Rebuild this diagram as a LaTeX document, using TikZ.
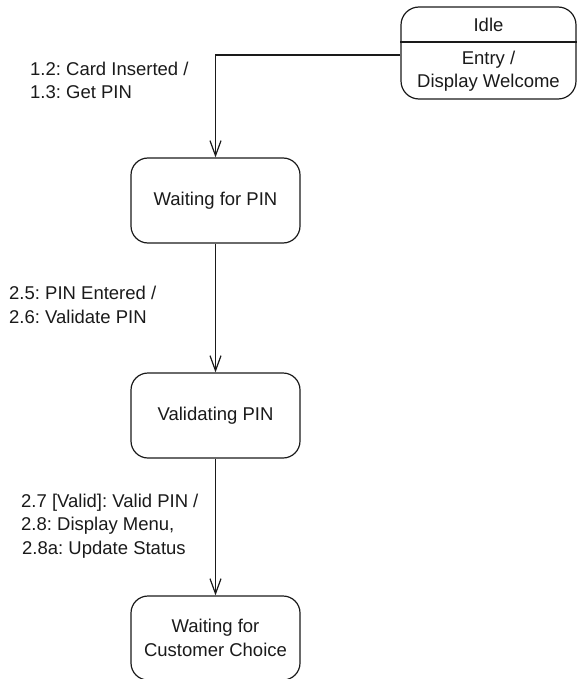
\documentclass[tikz,border=0pt]{standalone}
\usepackage{fontspec}
\setmainfont{Liberation Sans}
\usetikzlibrary{arrows.meta}
\definecolor{ink}{HTML}{1A1A1A}
\frenchspacing
\begin{document}
\begin{tikzpicture}[x=1pt,y=-1pt,
  font=\fontsize{18.5}{23.5}\selectfont,
  every node/.style={text=ink},
  statebox/.style={draw=ink,line width=1.2pt,rounded corners=17pt,inner sep=0pt,minimum width=169pt,minimum height=85pt,align=center},
  lbl/.style={anchor=base west,inner sep=0pt,align=left},
  flow/.style={draw=ink,line width=1.2pt,-{Straight Barb[length=15pt,width=11pt,line width=1.2pt]}}]
\useasboundingbox (0,0) rectangle (577,679);
% Idle
\node[statebox,rounded corners=18pt,minimum width=175pt,minimum height=92pt] (idle) at (488.5,53) {};
\draw[ink,line width=1.2pt] (idle.west |- 0,42) -- (idle.east |- 0,42);
\node[inner sep=0pt] (idlet) at (488.5,25) {Idle};
\node[inner sep=0pt,align=center] (idlee) at (488.5,71) {Entry /\\Display Welcome};
% states
\node[statebox] (wpin) at (215.5,200.5) {Waiting for PIN};
\node[statebox] (vpin) at (215.5,415.5) {Validating PIN};
\node[statebox,minimum height=84pt] (wcc) at (215.5,638) {Waiting for\\Customer Choice};
% connectors
\draw[flow] ([yshift=-2pt]idle.west) -| (wpin.north);
\draw[flow] (wpin.south) -- (vpin.north);
\draw[flow] (vpin.south) -- (wcc.north);
% labels (anchor base = baseline of last line)
\node[lbl] (l1) at (30,99) {1.2: Card Inserted /\\1.3: Get PIN};
\node[lbl] (l2) at (9,323) {2.5: PIN Entered /\\2.6: Validate PIN};
\node[lbl] (l3) at (21,554) {2.7 [Valid]: Valid PIN /\\2.8: Display Menu,\\\hspace*{1pt}2.8a: Update Status};
\end{tikzpicture}
\end{document}
